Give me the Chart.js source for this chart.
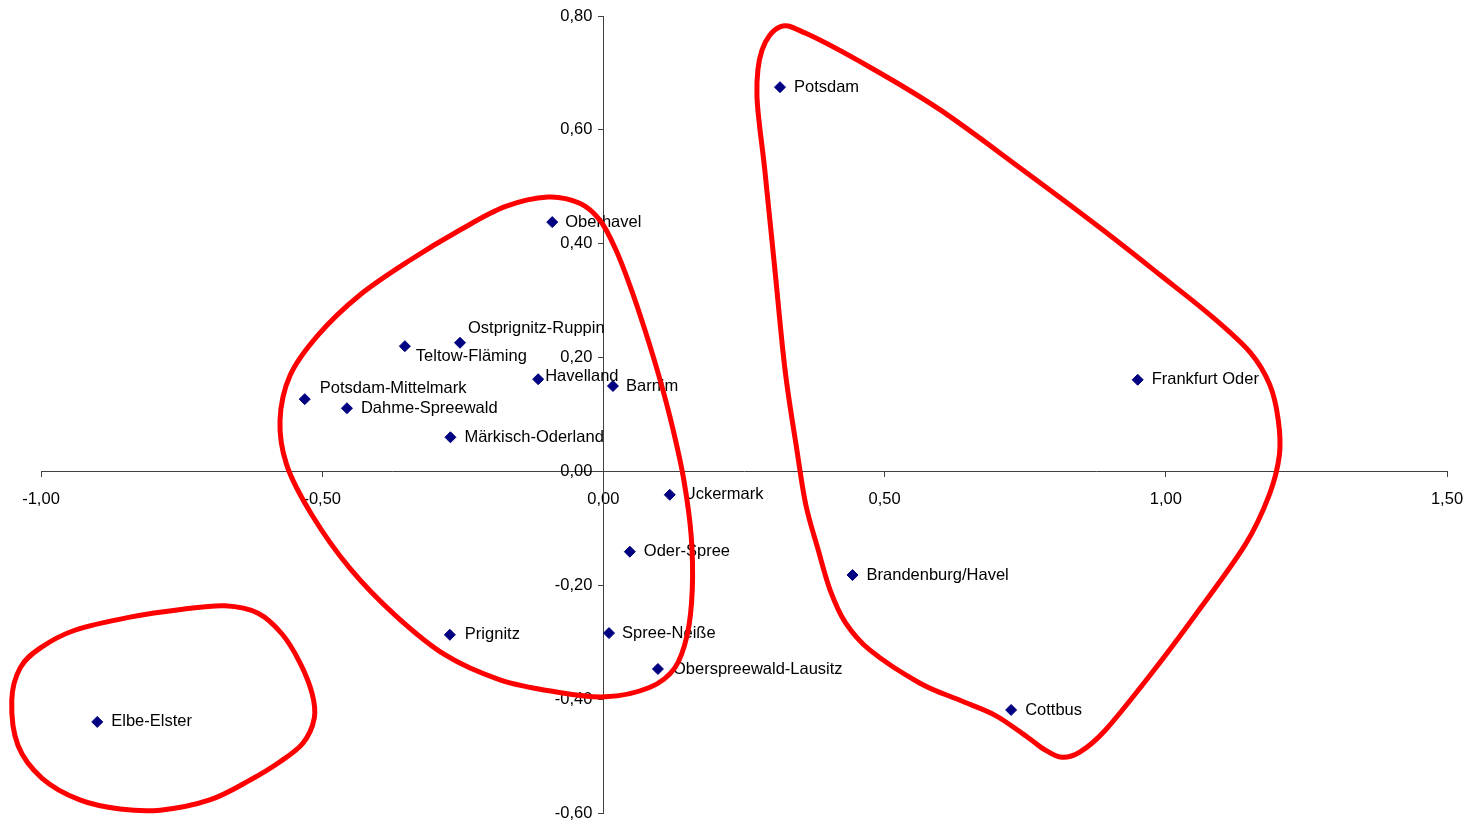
<!DOCTYPE html>
<html>
<head>
<meta charset="utf-8">
<script src="https://cdn.jsdelivr.net/npm/chart.js@4/dist/chart.umd.min.js"></script>
<style>
  html, body { margin: 0; padding: 0; background: #ffffff; }
  #wrap { width: 1470px; height: 823px; }
</style>
</head>
<body>
<div id="wrap"><canvas id="chart" width="1470" height="823"></canvas></div>
<script>
// Landkreise und kreisfreie Städte Brandenburgs – Faktorwerte
const names = [
  'Potsdam', 'Oberhavel', 'Ostprignitz-Ruppin', 'Teltow-Fläming', 'Havelland',
  'Barnim', 'Potsdam-Mittelmark', 'Dahme-Spreewald', 'Märkisch-Oderland',
  'Frankfurt Oder', 'Uckermark', 'Oder-Spree', 'Brandenburg/Havel', 'Prignitz',
  'Spree-Neiße', 'Oberspreewald-Lausitz', 'Cottbus', 'Elbe-Elster'
];
const xValues = [
  0.314, -0.091, -0.255, -0.353, -0.116,
  0.017, -0.531, -0.456, -0.272,
  0.950, 0.118, 0.047, 0.443, -0.273,
  0.010, 0.097, 0.725, -0.900
];
const yValues = [
  0.675, 0.438, 0.226, 0.220, 0.162,
  0.150, 0.127, 0.111, 0.060,
  0.161, -0.041, -0.141, -0.182, -0.287,
  -0.284, -0.347, -0.419, -0.440
];

// Axis ticks
const xTicks = [-1.0, -0.5, 0.0, 0.5, 1.0, 1.5];
const yTicks = [-0.6, -0.4, -0.2, 0.0, 0.2, 0.4, 0.6, 0.8];

// Cluster outlines (closed curves, in data units)
const clusterCenterX = [-0.0985, -0.042, -0.006, 0.021, 0.047, 0.074, 0.101, 0.124, 0.143, 0.156, 0.158, 0.149, 0.127, 0.083, 0.003, -0.086, -0.184, -0.282, -0.371, -0.451, -0.518, -0.563, -0.575, -0.557, -0.507, -0.433, -0.344, -0.255, -0.175];
const clusterCenterY = [0.482, 0.471, 0.441, 0.392, 0.327, 0.248, 0.160, 0.073, -0.015, -0.112, -0.208, -0.287, -0.345, -0.379, -0.396, -0.387, -0.366, -0.322, -0.252, -0.170, -0.077, 0.011, 0.090, 0.169, 0.240, 0.310, 0.371, 0.424, 0.465];

const clusterCityX = [0.314, 0.359, 0.474, 0.599, 0.741, 0.883, 0.990, 1.082, 1.150, 1.185, 1.200, 1.202, 1.184, 1.141, 1.052, 0.972, 0.892, 0.847, 0.815, 0.785, 0.753, 0.696, 0.634, 0.563, 0.474, 0.430, 0.403, 0.382, 0.360, 0.344, 0.323, 0.305, 0.287, 0.273, 0.282];
const clusterCityY = [0.781, 0.770, 0.710, 0.635, 0.533, 0.428, 0.345, 0.272, 0.209, 0.152, 0.090, 0.029, -0.041, -0.129, -0.253, -0.358, -0.455, -0.493, -0.502, -0.489, -0.466, -0.428, -0.402, -0.372, -0.314, -0.265, -0.208, -0.138, -0.059, 0.038, 0.178, 0.354, 0.529, 0.661, 0.740];

const clusterSouthX = [-1.052, -1.037, -1.001, -0.940, -0.842, -0.748, -0.673, -0.614, -0.571, -0.539, -0.518, -0.514, -0.534, -0.575, -0.628, -0.700, -0.788, -0.859, -0.931, -0.998, -1.041];
const clusterSouthY = [-0.402, -0.345, -0.310, -0.279, -0.256, -0.242, -0.236, -0.249, -0.286, -0.337, -0.390, -0.433, -0.477, -0.510, -0.542, -0.577, -0.595, -0.593, -0.577, -0.539, -0.481];

// Label placement tweaks (pixels relative to the marker)
const labelDefault = { dx: 14, dy: 0 };
const labelNudge = {
  'Oberhavel': { dx: 13, dy: 0 },
  'Ostprignitz-Ruppin': { dx: 8, dy: -14 },
  'Teltow-Fläming': { dx: 11, dy: 10 },
  'Havelland': { dx: 7, dy: -3 },
  'Barnim': { dx: 13, dy: 0 },
  'Potsdam-Mittelmark': { dx: 15, dy: -11 },
  'Prignitz': { dx: 15, dy: 0 },
  'Spree-Neiße': { dx: 13, dy: 0 },
  'Oberspreewald-Lausitz': { dx: 15, dy: 0 }
};

const FONT_FAMILY = '"Liberation Sans", Arial, "DejaVu Sans", sans-serif';
const FONT_SIZE = 16.5;
const AXIS_COLOR = '#404040';

function fmt(v) {
  if (Math.abs(v) < 1e-9) v = 0;
  return v.toFixed(2).replace('.', ',');
}

// Axes cross inside the plot, so they reserve no extra room at the edges
function noScalePadding(scale) {
  scale.paddingLeft = 0;
  scale.paddingRight = 0;
  scale.paddingTop = 0;
  scale.paddingBottom = 0;
}

const points = names.map((n, i) => ({ x: xValues[i], y: yValues[i], label: n }));

// Names next to each marker
const pointLabels = {
  id: 'pointLabels',
  afterDatasetsDraw(chart) {
    const ctx = chart.ctx;
    const meta = chart.getDatasetMeta(0);
    ctx.save();
    ctx.font = FONT_SIZE + 'px ' + FONT_FAMILY;
    ctx.fillStyle = '#000000';
    ctx.textAlign = 'left';
    ctx.textBaseline = 'middle';
    meta.data.forEach((el, i) => {
      const off = labelNudge[names[i]] || labelDefault;
      ctx.fillText(names[i], el.x + off.dx, el.y + off.dy);
    });
    ctx.restore();
  }
};

// Value labels of the vertical axis, set left of the crossing axis line
const yAxisLabels = {
  id: 'yAxisLabels',
  afterDraw(chart) {
    const sy = chart.scales.y, sx = chart.scales.x;
    const ctx = chart.ctx;
    const axisX = sx.getPixelForValue(0);
    ctx.save();
    ctx.font = FONT_SIZE + 'px ' + FONT_FAMILY;
    ctx.fillStyle = '#000000';
    ctx.textAlign = 'right';
    ctx.textBaseline = 'middle';
    sy.ticks.forEach(t => {
      ctx.fillText(fmt(t.value), axisX - 11, sy.getPixelForValue(t.value));
    });
    ctx.restore();
  }
};

// Smooth closed outlines around the groups, mapped through the chart scales
function drawClosedCurve(chart, xs, ys) {
  const sx = chart.scales.x, sy = chart.scales.y;
  const p = xs.map((v, i) => ({ x: sx.getPixelForValue(v), y: sy.getPixelForValue(ys[i]) }));
  const n = p.length;
  const ctx = chart.ctx;
  ctx.beginPath();
  ctx.moveTo(p[0].x, p[0].y);
  for (let i = 0; i < n; i++) {
    const p0 = p[(i - 1 + n) % n], p1 = p[i], p2 = p[(i + 1) % n], p3 = p[(i + 2) % n];
    const c1x = p1.x + (p2.x - p0.x) / 6, c1y = p1.y + (p2.y - p0.y) / 6;
    const c2x = p2.x - (p3.x - p1.x) / 6, c2y = p2.y - (p3.y - p1.y) / 6;
    ctx.bezierCurveTo(c1x, c1y, c2x, c2y, p2.x, p2.y);
  }
  ctx.closePath();
  ctx.stroke();
}

const clusterOutlines = {
  id: 'clusterOutlines',
  afterDraw(chart) {
    const ctx = chart.ctx;
    ctx.save();
    ctx.strokeStyle = '#ff0000';
    ctx.lineWidth = 5;
    ctx.lineJoin = 'round';
    drawClosedCurve(chart, clusterCenterX, clusterCenterY);
    drawClosedCurve(chart, clusterCityX, clusterCityY);
    drawClosedCurve(chart, clusterSouthX, clusterSouthY);
    ctx.restore();
  }
};

new Chart(document.getElementById('chart'), {
  type: 'scatter',
  data: {
    datasets: [{
      label: 'Kreise',
      data: points,
      pointStyle: 'rectRot',
      pointRadius: 5.5,
      pointHoverRadius: 5.5,
      backgroundColor: '#000080',
      borderColor: '#000080',
      borderWidth: 1
    }]
  },
  options: {
    responsive: false,
    animation: false,
    devicePixelRatio: 1,
    layout: { autoPadding: false, padding: { left: 41, right: 23, top: 16, bottom: 10 } },
    plugins: {
      legend: { display: false },
      tooltip: { enabled: false }
    },
    scales: {
      x: {
        type: 'linear',
        position: { y: 0 },
        min: xTicks[0],
        max: xTicks[xTicks.length - 1],
        afterBuildTicks(axis) { axis.ticks = xTicks.map(v => ({ value: v })); },
        afterFit: noScalePadding,
        ticks: {
          callback: v => fmt(v),
          color: '#000000',
          font: { family: FONT_FAMILY, size: FONT_SIZE },
          padding: 13,
          maxRotation: 0,
          autoSkip: false
        },
        grid: { drawOnChartArea: false, tickLength: 5, color: AXIS_COLOR },
        border: { color: AXIS_COLOR, width: 1 }
      },
      y: {
        type: 'linear',
        position: { x: 0 },
        min: yTicks[0],
        max: yTicks[yTicks.length - 1],
        afterBuildTicks(axis) { axis.ticks = yTicks.map(v => ({ value: v })); },
        afterFit: noScalePadding,
        ticks: { display: false },
        grid: { drawOnChartArea: false, tickLength: 5, color: AXIS_COLOR },
        border: { color: AXIS_COLOR, width: 1 }
      }
    }
  },
  plugins: [pointLabels, yAxisLabels, clusterOutlines]
});
</script>
</body>
</html>
